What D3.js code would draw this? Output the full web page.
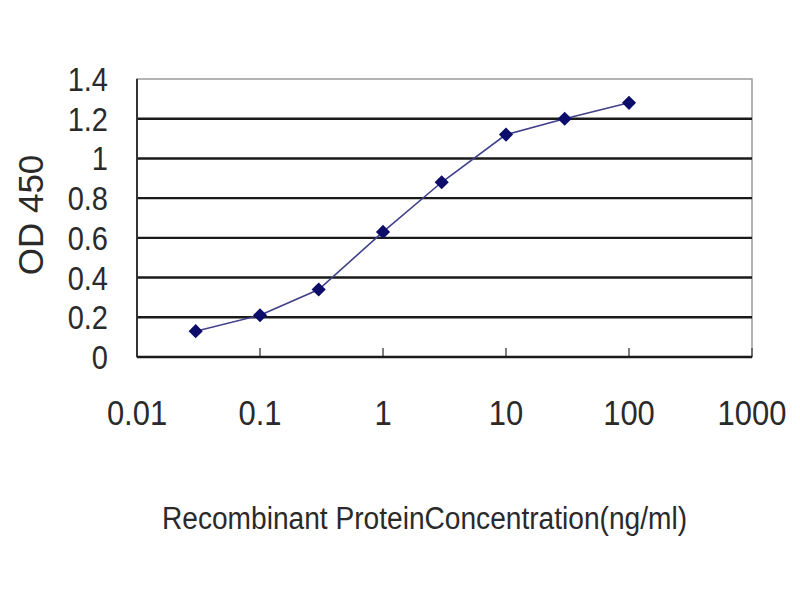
<!DOCTYPE html>
<html>
<head>
<meta charset="utf-8">
<script src="https://cdn.jsdelivr.net/npm/d3@7"></script>
<style>
  body { margin: 0; background: #fff; }
  svg text { font-family: "Liberation Sans", Arial, sans-serif; fill: #2a2a2a; }
</style>
</head>
<body>
<svg id="chart" width="800" height="600"></svg>
<script>
// data
const concentrations = [0.03, 0.1, 0.3, 1, 3, 10, 30, 100];
const odValues = [0.13, 0.21, 0.34, 0.63, 0.88, 1.12, 1.20, 1.28];
const xTicks = [0.01, 0.1, 1, 10, 100, 1000];
const yTicks = [0, 0.2, 0.4, 0.6, 0.8, 1, 1.2, 1.4];

const svg = d3.select("#chart");

const plotLeft = 137, plotRight = 752, plotTop = 79, plotBottom = 357;

const x = d3.scaleLog().domain([0.01, 1000]).range([plotLeft, plotRight]);
const y = d3.scaleLinear().domain([0, 1.4]).range([plotBottom, plotTop]);

// frame (gray top and right)
svg.append("rect")
  .attr("x", plotLeft).attr("y", plotTop)
  .attr("width", plotRight - plotLeft).attr("height", plotBottom - plotTop)
  .attr("fill", "#fff").attr("stroke", "#9a9a9a").attr("stroke-width", 1.5);

// gridlines
svg.append("g")
  .selectAll("line")
  .data(yTicks.filter(d => d > 0 && d < 1.4))
  .join("line")
  .attr("x1", plotLeft).attr("x2", plotRight)
  .attr("y1", d => y(d)).attr("y2", d => y(d))
  .attr("stroke", "#1a1a1a").attr("stroke-width", 2.4);

// x ticks (inside)
svg.append("g")
  .selectAll("line")
  .data(xTicks.slice(1))
  .join("line")
  .attr("x1", d => x(d)).attr("x2", d => x(d))
  .attr("y1", plotBottom).attr("y2", plotBottom - 9)
  .attr("stroke", "#555").attr("stroke-width", 1.5);

// axes lines
svg.append("line")
  .attr("x1", plotLeft).attr("x2", plotLeft).attr("y1", plotTop).attr("y2", plotBottom)
  .attr("stroke", "#333").attr("stroke-width", 2);
svg.append("line")
  .attr("x1", plotLeft).attr("x2", plotRight).attr("y1", plotBottom).attr("y2", plotBottom)
  .attr("stroke", "#1a1a1a").attr("stroke-width", 2.4);

// y tick labels
svg.append("g")
  .selectAll("text")
  .data(yTicks)
  .join("text")
  .attr("transform", d => `translate(108,${y(d) + 12}) scale(0.88,1)`)
  .attr("text-anchor", "end")
  .attr("font-size", 33)
  .text(d => d3.format("~g")(d));

// x tick labels
svg.append("g")
  .selectAll("text")
  .data(xTicks)
  .join("text")
  .attr("transform", d => `translate(${x(d)},425) scale(0.86,1)`)
  .attr("text-anchor", "middle")
  .attr("font-size", 36)
  .text(d => d >= 1 ? d3.format("d")(d) : String(d));

// axis titles
svg.append("text")
  .attr("transform", "translate(43,215) rotate(-90)")
  .attr("text-anchor", "middle")
  .attr("font-size", 35)
  .text("OD 450");

svg.append("text")
  .attr("x", 162).attr("y", 529)
  .attr("font-size", 31)
  .attr("textLength", 525)
  .attr("lengthAdjust", "spacingAndGlyphs")
  .text("Recombinant ProteinConcentration(ng/ml)");

// curve
const pts = concentrations.map((c, i) => [c, odValues[i]]);
svg.append("path")
  .datum(pts)
  .attr("fill", "none")
  .attr("stroke", "#40408a")
  .attr("stroke-width", 1.6)
  .attr("d", d3.line().x(d => x(d[0])).y(d => y(d[1])));

// diamond markers (square turned 45 degrees)
svg.append("g")
  .selectAll("path")
  .data(pts)
  .join("path")
  .attr("transform", d => `translate(${x(d[0])},${y(d[1])}) rotate(45)`)
  .attr("d", d3.symbol(d3.symbolSquare, 100))
  .attr("fill", "#0c0c6a");
</script>
</body>
</html>
